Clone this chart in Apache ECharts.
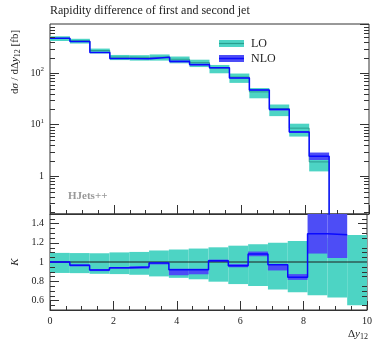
<!DOCTYPE html>
<html>
<head>
<meta charset="utf-8">
<script src="https://cdn.jsdelivr.net/npm/echarts@6/dist/echarts.min.js"></script>
<style>
  html, body { margin: 0; padding: 0; background: #fff; }
  #chart { width: 375px; height: 340px; }
</style>
</head>
<body>
<div id="chart"></div>
<script>
// Bin edges in Δy12
const binEdges = [0, 0.625, 1.25, 1.875, 2.5, 3.125, 3.75, 4.375, 5, 5.625, 6.25, 6.875, 7.5, 8.125, 8.75, 9.375, 10];

// LO cross section per bin [fb]
const loXsec = [475, 425, 275, 205, 202, 206, 186, 160, 125, 84, 43.3, 20.5, 8.55, 1.89, 0.08, 0.03];
// LO scale-variation band, relative to LO central
const loBandLow  = [0.886, 0.884, 0.877, 0.874, 0.867, 0.85, 0.835, 0.82, 0.795, 0.77, 0.75, 0.714, 0.686, 0.654, 0.63, 0.55];
const loBandHigh = [1.095, 1.093, 1.091, 1.10, 1.105, 1.12, 1.13, 1.14, 1.153, 1.17, 1.185, 1.2, 1.22, 1.235, 1.25, 1.28];

// K factor NLO/LO per bin (last bin has no NLO entry)
const kFactor    = [1.0, 0.965, 0.916, 0.94, 0.947, 0.99, 0.919, 0.919, 1.014, 0.962, 1.084, 0.972, 0.84, 1.293, 1.284];
// NLO band, relative to LO central
const nloBandLow  = [0.99, 0.954, 0.905, 0.93, 0.93, 0.975, 0.862, 0.872, 1.0, 0.945, 1.06, 0.912, 0.814, 1.088, 1.042];
const nloBandHigh = [1.01, 0.975, 0.926, 0.947, 0.955, 0.997, 0.93, 0.93, 1.025, 0.978, 1.109, 0.98, 0.874, 1.52, 1.55];

const xTickLabels = ['0', '2', '4', '6', '8', '10'];

const TURQ = '#4dd4c4';
const TURQ_LINE = 'rgba(30,140,125,0.75)';
const BLUE_BAND = '#4d4df6';
const BLUE = '#0a0aff';
const FRAME = '#333';
const SERIF = '"Liberation Serif", "DejaVu Serif", serif';

const Y_MIN = 0.184, Y_MAX = 900;

// derived quantities
const nloXsec = kFactor.map((k, i) => k * loXsec[i]);

function bandData(central, low, high) {
  return central.map((c, i) => [binEdges[i], binEdges[i + 1], c * low[i], c * high[i]]);
}
function stepData(values) {
  const d = values.map((v, i) => [binEdges[i], v]);
  d.push([binEdges[values.length], values[values.length - 1]]);
  return d;
}

const loTopBand = bandData(loXsec, loBandLow, loBandHigh);
const nloTopBand = bandData(loXsec.slice(0, kFactor.length), nloBandLow, nloBandHigh);
const loRatioBand = bandData(loXsec.map(() => 1), loBandLow, loBandHigh);
const nloRatioBand = bandData(kFactor.map(() => 1), nloBandLow, nloBandHigh);

function bandSeries(name, gi, data, color, z) {
  return {
    type: 'custom', name, xAxisIndex: gi, yAxisIndex: gi * 2, z, silent: true,
    encode: { x: [0, 1], y: [2, 3] },
    data,
    renderItem(params, api) {
      const p0 = api.coord([api.value(0), api.value(3)]);
      const p1 = api.coord([api.value(1), api.value(2)]);
      const cs = params.coordSys;
      const r = echarts.graphic.clipRectByRect(
        { x: p0[0], y: p0[1], width: p1[0] - p0[0], height: p1[1] - p0[1] },
        { x: cs.x, y: cs.y, width: cs.width, height: cs.height });
      if (!r) return null;
      return { type: 'rect', shape: r, style: { fill: color } };
    }
  };
}

// minor tick positions for both panels (drawn on left and right frame)
const logMinor = [];
for (let k = -1; k <= 2; k++) {
  for (let m = 2; m <= 9; m++) {
    const v = m * Math.pow(10, k);
    if (v > Y_MIN && v < Y_MAX) logMinor.push([0, v]);
  }
}
const ratioMinor = [];
for (let j = 11; j <= 29; j++) {
  if (j % 4 !== 0) ratioMinor.push([0, j * 0.05]);
}
function minorTickSeries(gi, data, len) {
  return {
    type: 'custom', xAxisIndex: gi, yAxisIndex: gi * 2, z: 20, silent: true,
    encode: { x: 0, y: 1 },
    data,
    renderItem(params, api) {
      const y = Math.round(api.coord([0, api.value(1)])[1]) + 0.5;
      const cs = params.coordSys;
      return {
        type: 'group',
        children: [
          { type: 'line', shape: { x1: cs.x, y1: y, x2: cs.x + len, y2: y }, style: { stroke: FRAME, lineWidth: 1 } },
          { type: 'line', shape: { x1: cs.x + cs.width - len, y1: y, x2: cs.x + cs.width, y2: y }, style: { stroke: FRAME, lineWidth: 1 } }
        ]
      };
    }
  };
}

const tickStyle = { lineStyle: { color: FRAME, width: 1 } };

function xAxisFor(gi, showLabels) {
  return {
    type: 'value', gridIndex: gi, min: 0, max: 10, interval: 2, position: 'bottom',
    axisLine: { show: true, lineStyle: { color: FRAME, width: 1 } },
    axisTick: { show: true, inside: true, length: 9, ...tickStyle },
    minorTick: { show: true, splitNumber: 4, length: 4, ...tickStyle },
    splitLine: { show: false },
    axisLabel: {
      show: showLabels, margin: 6, fontFamily: SERIF, fontSize: 10, color: '#222',
      formatter: v => xTickLabels[Math.round(v / 2)] ?? ''
    }
  };
}

function logAxis(position, showLabels) {
  return {
    type: 'log', gridIndex: 0, min: Y_MIN, max: Y_MAX, logBase: 10, position,
    axisLine: { show: false },
    axisTick: { show: true, inside: true, length: 9, ...tickStyle },
    splitLine: { show: false },
    axisLabel: {
      show: showLabels, margin: 6, fontFamily: SERIF, fontSize: 10, color: '#222', lineHeight: 14,
      showMinLabel: false, showMaxLabel: false,
      formatter: v => {
        const e = Math.log10(v);
        if (Math.abs(e - Math.round(e)) > 1e-6) return '';
        const n = Math.round(e);
        if (n === 0) return '1';
        return '10{sup|' + n + '}';
      },
      rich: { sup: { fontFamily: SERIF, fontSize: 7, lineHeight: 7, verticalAlign: 'top', color: '#222' } }
    }
  };
}

function ratioAxis(position, showLabels) {
  return {
    type: 'value', gridIndex: 1, min: 0.5, max: 1.5, splitNumber: 5, position,
    axisLine: { show: false },
    axisTick: { show: true, inside: true, length: 9, ...tickStyle },
    splitLine: { show: false },
    axisLabel: {
      show: showLabels, margin: 6, fontFamily: SERIF, fontSize: 10, color: '#222',
      showMinLabel: false, showMaxLabel: false,
      formatter: v => (Math.abs(v - 1) < 1e-9 ? '1' : String(Math.round(v * 10) / 10))
    }
  };
}

const chart = echarts.init(document.getElementById('chart'), null, { renderer: 'canvas' });

chart.setOption({
  animation: false,
  backgroundColor: '#fff',
  grid: [
    { left: 50, top: 24, width: 319, height: 190, show: true, borderColor: FRAME, borderWidth: 1, backgroundColor: 'transparent' },
    { left: 50, top: 214, width: 319, height: 96, show: true, borderColor: FRAME, borderWidth: 1, backgroundColor: 'transparent' }
  ],
  xAxis: [xAxisFor(0, false), xAxisFor(1, true)],
  yAxis: [logAxis('left', true), logAxis('right', false), ratioAxis('left', true), ratioAxis('right', false)],
  series: [
    // upper panel: differential cross section
    bandSeries('LO', 0, loTopBand, TURQ, 2),
    {
      type: 'line', xAxisIndex: 0, yAxisIndex: 0, step: 'end', showSymbol: false, silent: true, z: 3,
      data: stepData(loXsec), lineStyle: { color: TURQ_LINE, width: 1 }
    },
    bandSeries('NLO', 0, nloTopBand, BLUE_BAND, 4),
    {
      type: 'line', xAxisIndex: 0, yAxisIndex: 0, step: 'end', showSymbol: false, silent: true, z: 5,
      data: stepData(nloXsec), lineStyle: { color: BLUE, width: 1.5 }
    },
    minorTickSeries(0, logMinor, 5),

    // lower panel: K factor
    bandSeries('LO ratio', 1, loRatioBand, TURQ, 2),
    bandSeries('NLO ratio', 1, nloRatioBand, BLUE_BAND, 3),
    {
      type: 'line', xAxisIndex: 1, yAxisIndex: 2, showSymbol: false, silent: true, z: 4,
      data: [[0, 1], [10, 1]], lineStyle: { color: '#1e1e1e', width: 1 }
    },
    {
      type: 'line', xAxisIndex: 1, yAxisIndex: 2, step: 'end', showSymbol: false, silent: true, z: 5,
      data: stepData(kFactor), lineStyle: { color: BLUE, width: 1.5 }
    },
    minorTickSeries(1, ratioMinor, 5)
  ],
  graphic: [
    {
      type: 'text', left: 50, top: 5, silent: true,
      style: { text: 'Rapidity difference of first and second jet', font: '12px ' + SERIF, fill: '#222' }
    },
    {
      type: 'text', x: 15, y: 62, rotation: Math.PI / 2, silent: true,
      style: {
        text: 'd{i|σ} / dΔ{i|y}{sub|12} [fb]', align: 'center', verticalAlign: 'middle',
        font: '11px ' + SERIF, fill: '#222', lineHeight: 14,
        rich: {
          i: { font: 'italic 11px ' + SERIF, lineHeight: 14, fill: '#222' },
          sub: { font: '8px ' + SERIF, lineHeight: 7, verticalAlign: 'bottom', fill: '#222' }
        }
      }
    },
    {
      type: 'text', x: 15, y: 262, rotation: Math.PI / 2, silent: true,
      style: { text: 'K', align: 'center', verticalAlign: 'middle', font: 'italic 11px ' + SERIF, fill: '#222' }
    },
    {
      type: 'text', x: 368, y: 334, silent: true,
      style: {
        text: 'Δ{i|y}{sub|12}', align: 'right', verticalAlign: 'middle',
        font: '11px ' + SERIF, fill: '#222', lineHeight: 14,
        rich: {
          i: { font: 'italic 11px ' + SERIF, lineHeight: 14, fill: '#222' },
          sub: { font: '8px ' + SERIF, lineHeight: 7, verticalAlign: 'bottom', fill: '#222' }
        }
      }
    },
    {
      type: 'text', x: 68, y: 196, silent: true,
      style: { text: 'HJets++', verticalAlign: 'middle', font: 'bold 11px ' + SERIF, fill: '#999' }
    },
    // legend
    { type: 'rect', silent: true, shape: { x: 219, y: 40, width: 25, height: 7 }, style: { fill: TURQ } },
    { type: 'line', silent: true, shape: { x1: 219, y1: 43.5, x2: 244, y2: 43.5 }, style: { stroke: TURQ_LINE, lineWidth: 1.2 } },
    { type: 'text', silent: true, x: 251, y: 43.5, style: { text: 'LO', verticalAlign: 'middle', font: '12px ' + SERIF, fill: '#222' } },
    { type: 'rect', silent: true, shape: { x: 219, y: 55, width: 25, height: 7 }, style: { fill: BLUE_BAND } },
    { type: 'line', silent: true, shape: { x1: 219, y1: 58.5, x2: 244, y2: 58.5 }, style: { stroke: BLUE, lineWidth: 1.5 } },
    { type: 'text', silent: true, x: 251, y: 58.5, style: { text: 'NLO', verticalAlign: 'middle', font: '12px ' + SERIF, fill: '#222' } }
  ]
});
</script>
</body>
</html>
